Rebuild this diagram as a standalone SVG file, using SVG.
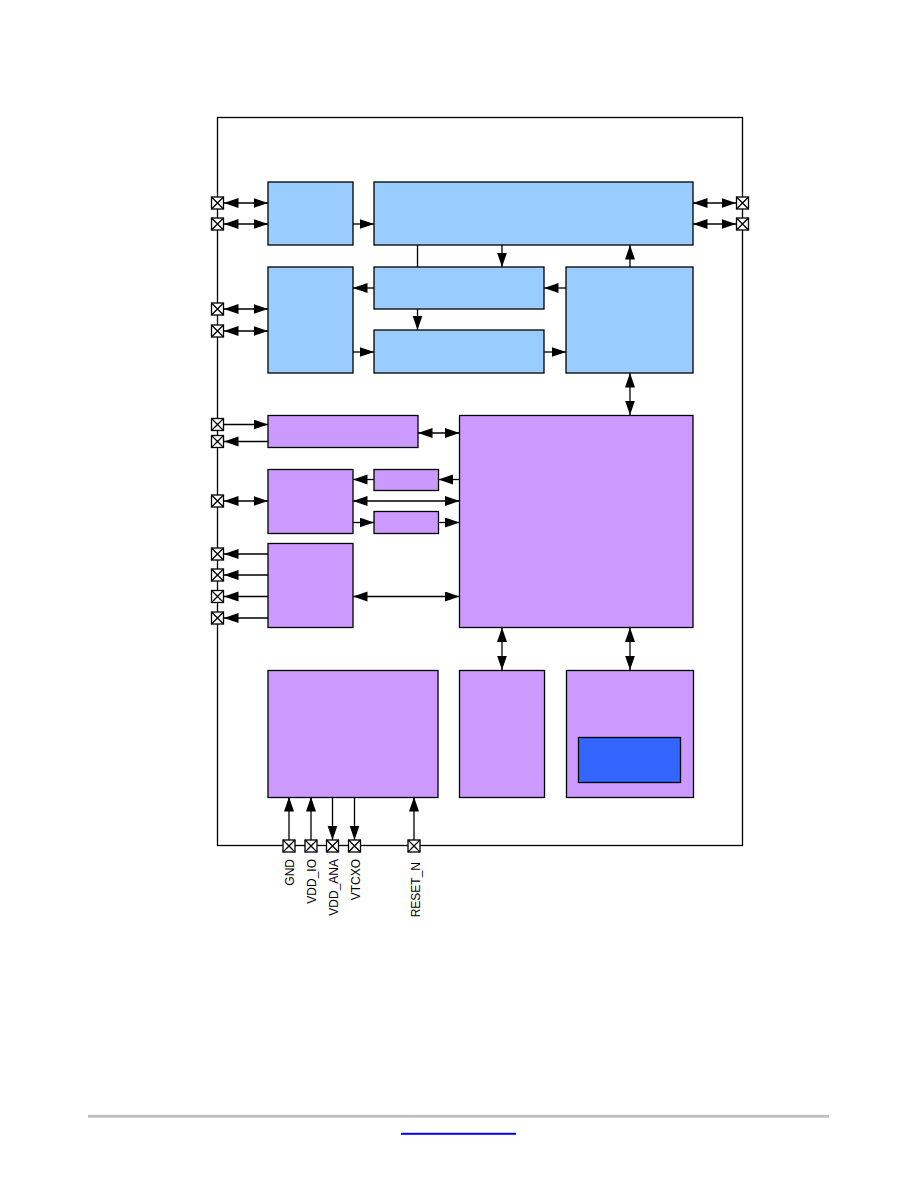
<svg xmlns="http://www.w3.org/2000/svg" width="918" height="1188" viewBox="0 0 918 1188">
<style>
.blue{fill:#99ccff;stroke:#000;stroke-width:1.3}
.purple{fill:#cc99ff;stroke:#000;stroke-width:1.3}
.dark{fill:#3366ff;stroke:#000;stroke-width:1.3}
.pad rect{fill:#fff;stroke:#000;stroke-width:1.3}
.pad path{fill:none;stroke:#000;stroke-width:1.3}
#connectors line{stroke:#000;stroke-width:1.3;fill:none}
.a1{marker-end:url(#ah)}
.a2{marker-start:url(#ah);marker-end:url(#ah)}
.lbl{font-family:"Liberation Sans",Arial,sans-serif;font-size:12px;fill:#000}
</style>
<defs>
<marker id="ah" markerUnits="userSpaceOnUse" markerWidth="16" markerHeight="11" refX="14.5" refY="5" orient="auto-start-reverse">
<path d="M0,0 L14.5,5 L0,10 Z" fill="#000"/>
</marker>
<g id="padsym" class="pad"><rect x="-6" y="-6" width="12" height="12"/><path d="M-6,-6 L6,6 M6,-6 L-6,6"/></g>
</defs>
<rect width="918" height="1188" fill="#fff"/>
<rect id="chip" x="217.5" y="117.5" width="525" height="728" fill="none" stroke="#000" stroke-width="1.3"/>

<g id="connectors">
<line class="a2" x1="224" y1="203" x2="268" y2="203"/>
<line class="a2" x1="224" y1="224" x2="268" y2="224"/>
<line class="a1" x1="353" y1="224" x2="374" y2="224"/>
<line class="a2" x1="693" y1="203" x2="736" y2="203"/>
<line class="a2" x1="693" y1="224" x2="736" y2="224"/>
<line x1="417.5" y1="245" x2="417.5" y2="267"/>
<line class="a1" x1="417.5" y1="309" x2="417.5" y2="330"/>
<line class="a1" x1="502" y1="245" x2="502" y2="267"/>
<line class="a1" x1="630" y1="267" x2="630" y2="245"/>
<line class="a1" x1="566" y1="288" x2="544" y2="288"/>
<line class="a1" x1="374" y1="288" x2="353" y2="288"/>
<line class="a1" x1="544" y1="352" x2="566" y2="352"/>
<line class="a1" x1="353" y1="352" x2="374" y2="352"/>
<line class="a2" x1="224" y1="309" x2="268" y2="309"/>
<line class="a2" x1="224" y1="331" x2="268" y2="331"/>
<line class="a2" x1="630" y1="373" x2="630" y2="415"/>
<line class="a1" x1="224" y1="424.5" x2="268" y2="424.5"/>
<line class="a1" x1="268" y1="441.5" x2="224" y2="441.5"/>
<line class="a2" x1="418" y1="433" x2="459.5" y2="433"/>
<line class="a1" x1="459.5" y1="479.5" x2="438.5" y2="479.5"/>
<line class="a1" x1="374" y1="479.5" x2="353" y2="479.5"/>
<line class="a2" x1="353" y1="501" x2="459.5" y2="501"/>
<line class="a1" x1="353" y1="522.5" x2="374" y2="522.5"/>
<line class="a1" x1="438.5" y1="522.5" x2="459.5" y2="522.5"/>
<line class="a2" x1="224" y1="501" x2="268" y2="501"/>
<line class="a1" x1="268" y1="554" x2="224" y2="554"/>
<line class="a1" x1="268" y1="575" x2="224" y2="575"/>
<line class="a1" x1="268" y1="596.5" x2="224" y2="596.5"/>
<line class="a1" x1="268" y1="618" x2="224" y2="618"/>
<line class="a2" x1="353" y1="596.5" x2="459.5" y2="596.5"/>
<line class="a2" x1="502" y1="627.5" x2="502" y2="670"/>
<line class="a2" x1="630" y1="627.5" x2="630" y2="670"/>
<line class="a1" x1="289" y1="840" x2="289" y2="797"/>
<line class="a1" x1="311" y1="840" x2="311" y2="797"/>
<line class="a1" x1="332.5" y1="797" x2="332.5" y2="840"/>
<line class="a1" x1="354.5" y1="797" x2="354.5" y2="840"/>
<line class="a1" x1="414" y1="840" x2="414" y2="797"/>
</g>

<g id="nodeA"><rect class="blue" x="268" y="182" width="85" height="63"/></g>
<g id="nodeB"><rect class="blue" x="374" y="182" width="319" height="63"/></g>
<g id="nodeC"><rect class="blue" x="374" y="267" width="170" height="42"/></g>
<g id="nodeD"><rect class="blue" x="374" y="330" width="170" height="43"/></g>
<g id="nodeE"><rect class="blue" x="268" y="267" width="85" height="106"/></g>
<g id="nodeF"><rect class="blue" x="566" y="267" width="127" height="106"/></g>
<g id="nodeG"><rect class="purple" x="459.5" y="415.5" width="233.5" height="212"/></g>
<g id="nodeH"><rect class="purple" x="268" y="415.5" width="150" height="32"/></g>
<g id="nodeI"><rect class="purple" x="268" y="469.5" width="85" height="64"/></g>
<g id="nodeJ"><rect class="purple" x="374" y="469.5" width="64.5" height="21"/></g>
<g id="nodeK"><rect class="purple" x="374" y="511.5" width="64.5" height="22"/></g>
<g id="nodeL"><rect class="purple" x="268" y="543.5" width="85" height="84"/></g>
<g id="nodeM"><rect class="purple" x="459.5" y="670.5" width="85" height="127"/></g>
<g id="nodeN"><rect class="purple" x="566.5" y="670.5" width="127" height="127"/><rect class="dark" x="578.5" y="737.5" width="102" height="45"/></g>
<g id="nodeO"><rect class="purple" x="268" y="670.5" width="170" height="127"/></g>

<g id="pads">
<use href="#padsym" x="217.5" y="203"/>
<use href="#padsym" x="217.5" y="224"/>
<use href="#padsym" x="217.5" y="309"/>
<use href="#padsym" x="217.5" y="331"/>
<use href="#padsym" x="217.5" y="424.5"/>
<use href="#padsym" x="217.5" y="441.5"/>
<use href="#padsym" x="217.5" y="501"/>
<use href="#padsym" x="217.5" y="554"/>
<use href="#padsym" x="217.5" y="575"/>
<use href="#padsym" x="217.5" y="596.5"/>
<use href="#padsym" x="217.5" y="618"/>
<use href="#padsym" x="742.5" y="203"/>
<use href="#padsym" x="742.5" y="224"/>
<use href="#padsym" x="289" y="846"/>
<use href="#padsym" x="311" y="846"/>
<use href="#padsym" x="332.5" y="846"/>
<use href="#padsym" x="354.5" y="846"/>
<use href="#padsym" x="414" y="846"/>
</g>

<g id="labels">
<text class="lbl" text-anchor="end" transform="translate(293.5,859) rotate(-90)">GND</text>
<text class="lbl" text-anchor="end" transform="translate(315.5,859) rotate(-90)">VDD_IO</text>
<text class="lbl" text-anchor="end" transform="translate(337.5,859) rotate(-90)">VDD_ANA</text>
<text class="lbl" text-anchor="end" transform="translate(359.5,859) rotate(-90)">VTCXO</text>
<text class="lbl" text-anchor="end" transform="translate(419.5,862) rotate(-90)">RESET_N</text>
</g>

<g id="footer">
<rect x="88" y="1114.8" width="741" height="2.9" fill="#c0c0c0"/>
<rect x="401" y="1132.8" width="115" height="2" fill="#0000ff"/>
</g>
</svg>
